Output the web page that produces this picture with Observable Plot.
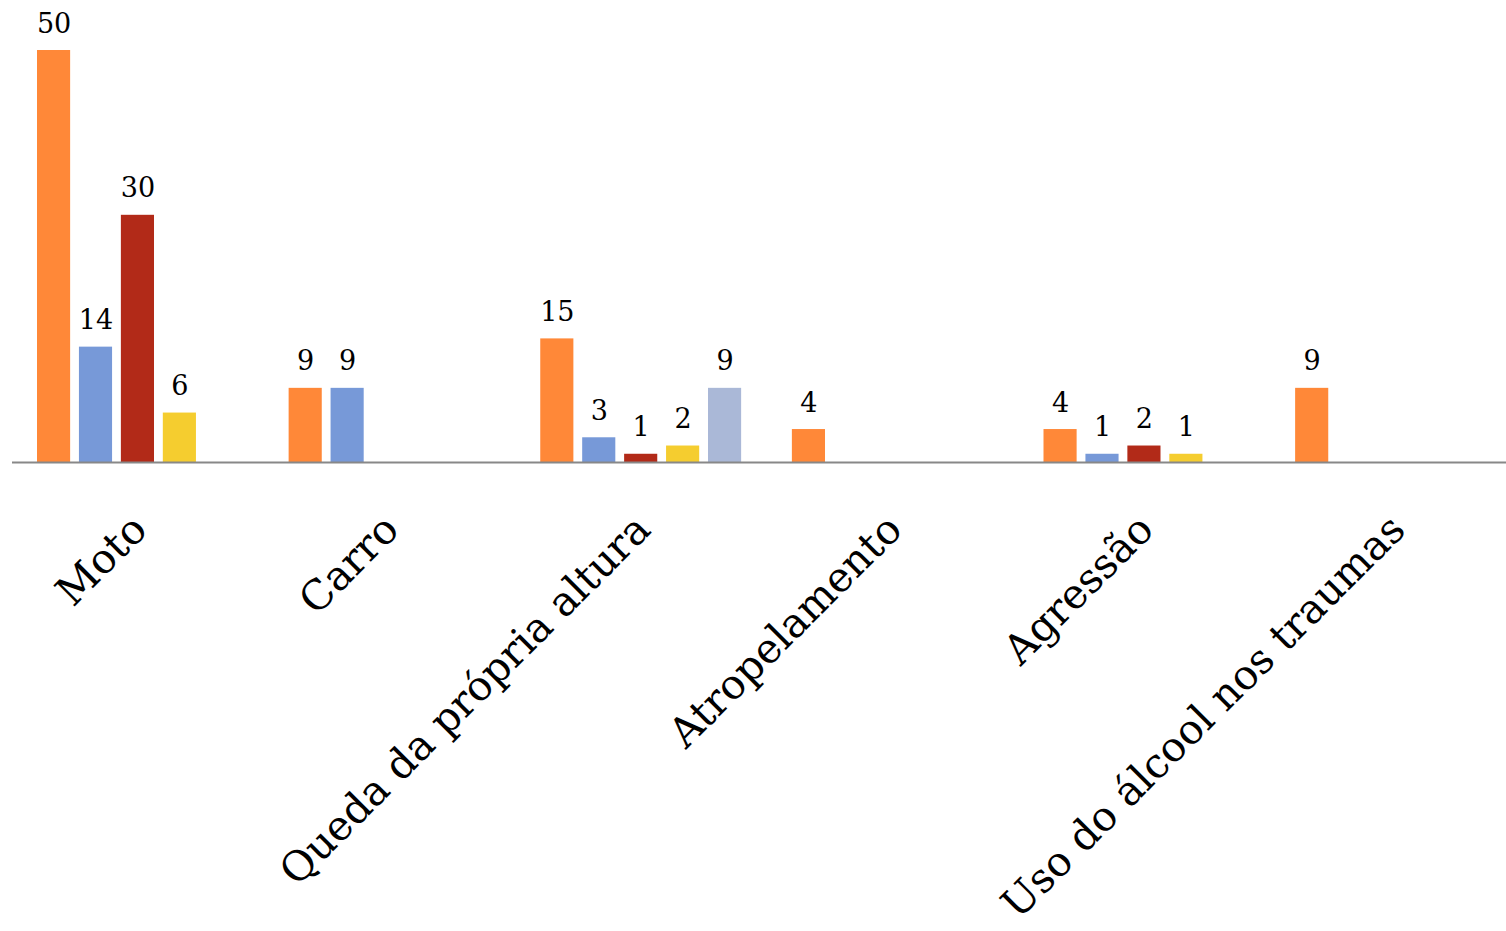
<!DOCTYPE html>
<html>
<head>
<meta charset="utf-8">
<script src="https://cdn.jsdelivr.net/npm/d3@7"></script>
<script src="https://cdn.jsdelivr.net/npm/@observablehq/plot@0.6"></script>
<style>
  html, body { margin: 0; padding: 0; background: #ffffff; }
  #chart svg { display: block; }
</style>
</head>
<body>
<div id="chart"></div>
<script>
// Categories (x axis)
const categories = ["Moto", "Carro", "Queda da própria altura", "Atropelamento", "Agressão", "Uso do álcool nos traumas"];
// Series (no legend in the original)
const seriesNames = ["Série 1", "Série 2", "Série 3", "Série 4", "Série 5"];
const seriesColors = ["#FF8838", "#7799D8", "#B22A18", "#F5CD2F", "#AAB8D7"];
// Values per series (null = no bar)
const serie1 = [50, 9, 15, 4, 4, 9];
const serie2 = [14, 9, 3, null, 1, null];
const serie3 = [30, null, 1, null, 2, null];
const serie4 = [6, null, 2, null, 1, null];
const serie5 = [null, null, 9, null, null, null];
const seriesValues = [serie1, serie2, serie3, serie4, serie5];

// Build tidy table
const rows = [];
categories.forEach((c, i) => {
  seriesValues.forEach((vals, s) => {
    if (vals[i] != null) rows.push({category: c, series: seriesNames[s], key: c + "|" + seriesNames[s], value: vals[i]});
  });
});
// Slot domain: 5 series slots per category + one gap slot between categories
const slots = [];
categories.forEach((c, i) => {
  seriesNames.forEach(s => slots.push(c + "|" + s));
  if (i < categories.length - 1) slots.push(c + "|gap");
});
const labelRows = categories.map(c => ({category: c, key: c + "|" + seriesNames[2]}));

const chart = Plot.plot({
  width: 1506,
  height: 931,
  marginLeft: 12,
  marginRight: 0,
  marginTop: 50,
  marginBottom: 469,
  style: {fontFamily: "'DejaVu Serif', serif", background: "#ffffff", color: "#000"},
  x: {domain: slots, range: [37, 1496], paddingInner: 0.21, paddingOuter: 0, axis: null},
  y: {domain: [0, 50], axis: null},
  color: {domain: seriesNames, range: seriesColors},
  marks: [
    Plot.barY(rows, {x: "key", y: "value", fill: "series"}),
    Plot.ruleY([0], {stroke: "#888888", strokeWidth: 2}),
    Plot.text(rows, {x: "key", y: "value", text: d => String(d.value), dy: -18, lineAnchor: "bottom", fontSize: 27, fill: "#000"}),
    Plot.text(labelRows, {x: "key", y: () => 0, text: "category", rotate: -45, textAnchor: "end", lineAnchor: "middle", dx: 2, dy: 60, fontSize: 41, fill: "#000"})
  ]
});
document.getElementById("chart").appendChild(chart);
</script>
</body>
</html>
